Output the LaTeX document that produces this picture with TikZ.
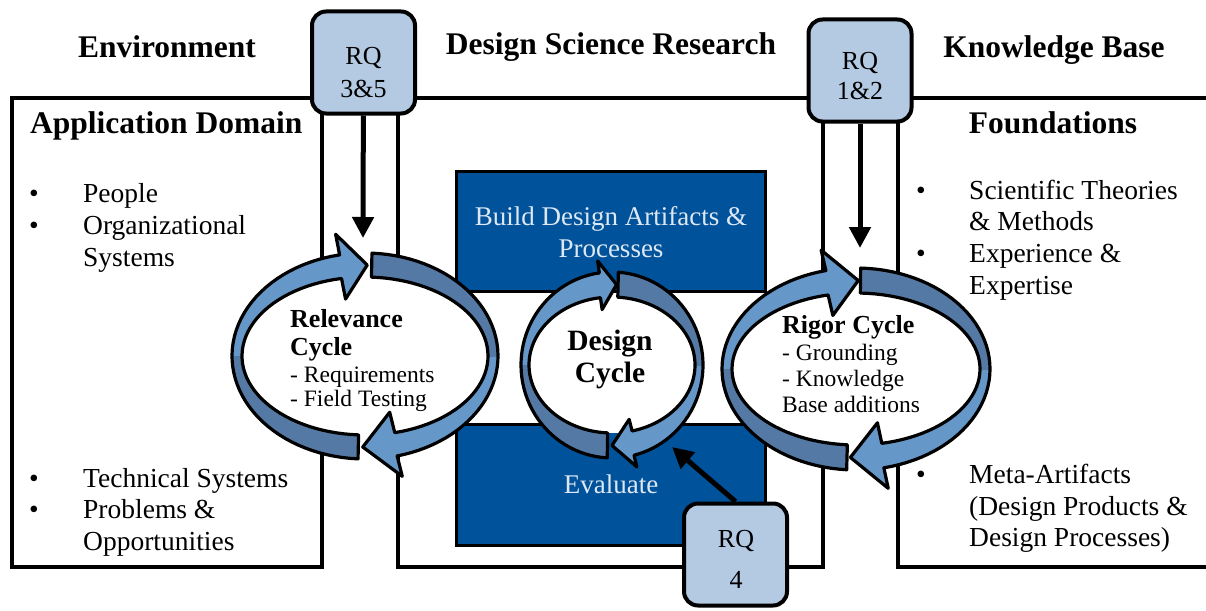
\documentclass[tikz,border=0pt]{standalone}
\usepackage{fontspec}
\setmainfont{Liberation Serif}
\usetikzlibrary{arrows.meta}
\definecolor{dsblue}{RGB}{0,82,155}
\definecolor{rqfill}{RGB}{180,201,226}
\definecolor{arrlight}{RGB}{101,152,201}
\definecolor{arrdark}{RGB}{84,121,164}
\definecolor{boxtext}{RGB}{222,232,244}

% ring arrow path: #1 tail angle, #2 head base angle, #3 tip angle (screen param, y down)
\newcommand\ringarrow[3]{%
 plot[domain=#1:#2,samples=50,variable=\t] ({\RcX+\RxI*cos(\t)},{\RcY+\RyI*sin(\t)})
 -- ({\RcX+(\RxI-\RhE)*cos(#2)},{\RcY+(\RyI-\RhE)*sin(#2)})
 -- ({\RcX+0.5*(\RxI+\RxO)*cos(#3)},{\RcY+0.5*(\RyI+\RyO)*sin(#3)})
 -- ({\RcX+(\RxO+\RhE)*cos(#2)},{\RcY+(\RyO+\RhE)*sin(#2)})
 -- plot[domain=#2:#1,samples=50,variable=\t] ({\RcX+\RxO*cos(\t)},{\RcY+\RyO*sin(\t)})
 -- cycle}
\newcommand\drawring[6]{%
 \fill[white] plot[domain=0:360,samples=90,variable=\t] ({\RcX+\RxI*cos(\t)},{\RcY+\RyI*sin(\t)}) -- cycle;
 \fill[arrlight] \ringarrow{#1}{#2}{#3};
 \begin{scope}\clip (\RcX-300,\RcY) rectangle (\RcX+300,\RcY+300);
   \fill[arrdark] \ringarrow{#1}{#2}{#3};\end{scope}
 \draw[ringline] \ringarrow{#1}{#2}{#3};
 \fill[arrlight] \ringarrow{#4}{#5}{#6};
 \begin{scope}\clip (\RcX-300,\RcY) rectangle (\RcX+300,\RcY-300);
   \fill[arrdark] \ringarrow{#4}{#5}{#6};\end{scope}
 \draw[ringline] \ringarrow{#4}{#5}{#6};
}

\begin{document}
\begin{tikzpicture}[x=1pt,y=-1pt,
  frame/.style={draw=black,line width=3.5pt,fill=white},
  bluebox/.style={draw=black,line width=3pt,fill=dsblue,inner sep=0pt},
  rqbox/.style={draw=black,line width=4pt,fill=rqfill,rounded corners=14pt,
    minimum width=103pt,minimum height=102pt,inner sep=0pt},
  ringline/.style={draw=black,line width=3.2pt,line join=round},
  rqarrow/.style={line width=5pt,-{Triangle[length=21pt 0,width=21pt 0]}},
  head/.style={font=\fontsize{31.5}{36}\selectfont\bfseries,inner sep=0pt},
  body/.style={font=\fontsize{27.5}{32}\selectfont,inner sep=0pt},
  boxt/.style={font=\fontsize{27}{32}\selectfont,text=boxtext,inner sep=0pt},
  rqt/.style={font=\fontsize{26}{30}\selectfont,inner sep=0pt},
  cyc/.style={font=\fontsize{26}{30}\selectfont\bfseries,inner sep=0pt},
  cycs/.style={font=\fontsize{23.5}{26}\selectfont,inner sep=0pt},
  dcyc/.style={font=\fontsize{29.5}{32}\selectfont\bfseries,inner sep=0pt}
]
\useasboundingbox (0,0) rectangle (1206,610);
\fill[white] (0,0) rectangle (1206,610);

% frames
\draw[frame] (12,98) rectangle (322,567);
\draw[frame] (398,98) rectangle (823,567);
\draw[frame] (898,98) rectangle (1220,567);

% blue boxes
\node[bluebox,minimum width=309pt,minimum height=120pt] (build) at (611,231.5) {};
\node[bluebox,minimum width=309pt,minimum height=121pt] (eval) at (611,485) {};
\node[boxt,anchor=base] (bt1) at (611,225) {Build Design Artifacts \&};
\node[boxt,anchor=base] (bt2) at (611,257) {Processes};
\node[boxt,anchor=base] (et) at (611,493) {Evaluate};

% relevance ring
\def\RcX{365}\def\RcY{356}\def\RxO{133}\def\RyO{103}\def\RxI{123}\def\RyI{79}\def\RhE{21}
\drawring{93}{259}{271}{273}{436}{451}
% design ring
\def\RcX{612}\def\RcY{365}\def\RxO{91}\def\RyO{93}\def\RxI{83}\def\RyI{68}\def\RhE{12}
\drawring{93}{262}{273}{274}{436}{450}
% rigor ring
\def\RcX{856}\def\RcY{369}\def\RxO{134}\def\RyO{101}\def\RxI{124}\def\RyI{76}\def\RhE{21}
\drawring{94}{257}{271}{272}{438}{452.5}

% ring texts
\node[cyc,anchor=base west] (rc1) at (290,327) {Relevance};
\node[cyc,anchor=base west] (rc2) at (290,355) {Cycle};
\node[cycs,anchor=base west] (rc3) at (290,382) {- Requirements};
\node[cycs,anchor=base west] (rc4) at (290,406) {- Field Testing};
\node[dcyc,anchor=base] (dc1) at (610,350) {Design};
\node[dcyc,anchor=base] (dc2) at (610,382) {Cycle};
\node[cyc,anchor=base west] (gc1) at (782,333) {Rigor Cycle};
\node[cycs,anchor=base west] (gc2) at (782,360) {- Grounding};
\node[cycs,anchor=base west] (gc3) at (782,386) {- Knowledge};
\node[cycs,anchor=base west] (gc4) at (782,412) {Base additions};

% RQ boxes
\node[rqbox] (rq35) at (363.5,62.5) {};
\node[rqt,anchor=base] (rq35a) at (363.5,64) {RQ};
\node[rqt,anchor=base] (rq35b) at (363.5,97) {3\&5};
\node[rqbox] (rq12) at (860,70.5) {};
\node[rqt,anchor=base] (rq12a) at (860,69) {RQ};
\node[rqt,anchor=base] (rq12b) at (860,99) {1\&2};
\node[rqbox] (rq4) at (735.5,554.5) {};
\node[rqt,anchor=base] (rq4a) at (736,547) {RQ};
\node[rqt,anchor=base] (rq4b) at (736,588) {4};

% RQ arrows
\coordinate (tipA) at (363,238);
\coordinate (tipB) at (860,248);
\coordinate (tipC) at (672,447);
\draw[rqarrow] (rq35) -- (tipA);
\draw[rqarrow] (rq12) -- (tipB);
\draw[rqarrow] (rq4.north) -- (tipC);

% headings
\node[head,anchor=base] (env) at (167,58) {Environment};
\node[head,anchor=base] (dsr) at (611,55) {Design Science Research};
\node[head,anchor=base] (kb) at (1054,57) {Knowledge Base};
\node[head,anchor=base west] (ad) at (30,133) {Application Domain};
\node[head,anchor=base] (fd) at (1053,133) {Foundations};

% left bullets
\node[body,anchor=base] (b1) at (34,202) {•};
\node[body,anchor=base west] (l1) at (83,202) {People};
\node[body,anchor=base] (b2) at (34,234) {•};
\node[body,anchor=base west] (l2) at (83,234) {Organizational};
\node[body,anchor=base west] (l3) at (83,266) {Systems};
\node[body,anchor=base] (b3) at (34,487) {•};
\node[body,anchor=base west] (l4) at (83,487) {Technical Systems};
\node[body,anchor=base] (b4) at (34,518) {•};
\node[body,anchor=base west] (l5) at (83,518) {Problems \&};
\node[body,anchor=base west] (l6) at (83,550) {Opportunities};

% right bullets
\node[body,anchor=base] (b5) at (921,199) {•};
\node[body,anchor=base west] (r1) at (969,199) {Scientific Theories};
\node[body,anchor=base west] (r2) at (969,230) {\& Methods};
\node[body,anchor=base] (b6) at (921,262) {•};
\node[body,anchor=base west] (r3) at (969,262) {Experience \&};
\node[body,anchor=base west] (r4) at (969,294) {Expertise};
\node[body,anchor=base] (b7) at (921,483) {•};
\node[body,anchor=base west] (r5) at (969,483) {Meta-Artifacts};
\node[body,anchor=base west] (r6) at (969,515) {(Design Products \&};
\node[body,anchor=base west] (r7) at (969,546) {Design Processes)};
\end{tikzpicture}
\end{document}
